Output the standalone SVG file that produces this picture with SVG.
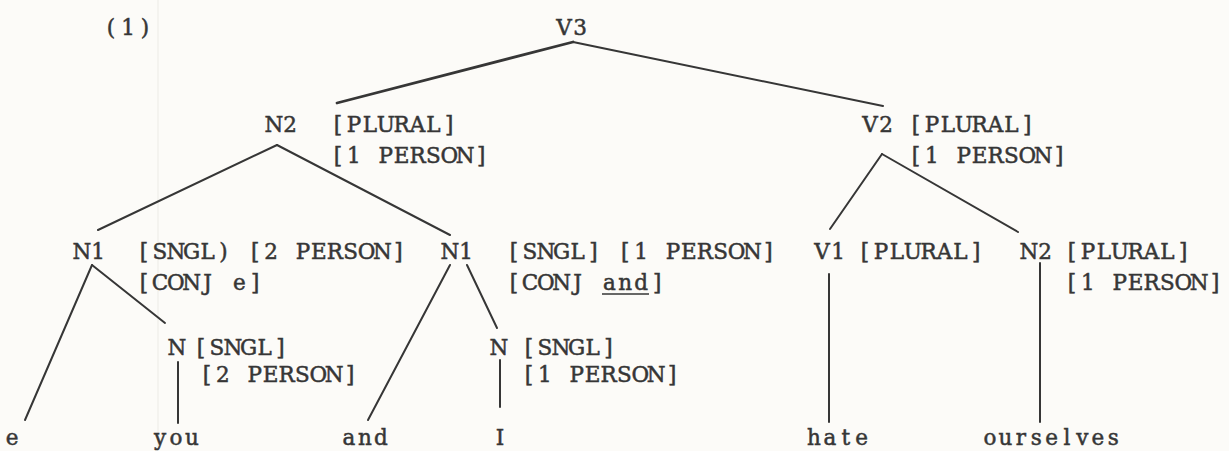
<svg xmlns="http://www.w3.org/2000/svg" width="1229" height="451" viewBox="0 0 1229 451">
<style>
text{font-family:"DejaVu Serif","Liberation Serif",serif;font-size:21.5px;fill:#363636;stroke:#363636;stroke-width:0.5px;text-anchor:middle;white-space:pre}
.e line{stroke:#363636;stroke-width:2;stroke-linecap:round}
.e line.t{stroke-width:2.8}
</style>
<rect width="1229" height="451" fill="#fcfbf8"/>
<line x1="158" y1="0" x2="158" y2="451" stroke="#ecebe6" stroke-width="1"/>
<text x="111 128 145" y="35">(1)</text>
<g id="V3"><text x="564 580" y="35">V3</text></g>
<g id="N2a"><text x="274 290" y="132">N2</text><text x="338 353.9 369.8 385.7 401.6 417.5 433.4 449.3" y="132">[PLURAL]</text><text x="338 353.9 369.8 385.7 401.6 417.5 433.4 449.3 465.2 481.1" y="163">[1 PERSON]</text></g>
<g id="V2"><text x="870 886" y="132">V2</text><text x="916 931.9 947.8 963.7 979.6 995.5 1011.4 1027.3" y="132">[PLURAL]</text><text x="916 931.9 947.8 963.7 979.6 995.5 1011.4 1027.3 1043.2 1059.1" y="163">[1 PERSON]</text></g>
<g id="N1a"><text x="82 98" y="259">N1</text><text x="144 159.9 175.8 191.7 207.6 223.5 239.4 255.3 271.2 287.1 303 318.9 334.8 350.7 366.6 382.5 398.4" y="259">[SNGL) [2 PERSON]</text><text x="144 159.9 175.8 191.7 207.6 223.5 239.4 255.3" y="290">[CONJ e]</text></g>
<g id="N1b"><text x="450 466" y="259">N1</text><text x="514 529.9 545.8 561.7 577.6 593.5 609.4 625.3 641.2 657.1 673 688.9 704.8 720.7 736.6 752.5 768.4" y="259">[SNGL] [1 PERSON]</text><text x="514 529.9 545.8 561.7 577.6 593.5 609.4 625.3 641.2 657.1" y="290">[CONJ and]</text><line x1="602" y1="294" x2="649" y2="294" stroke="#363636" stroke-width="1.6"/></g>
<g id="V1"><text x="822 838" y="259">V1</text><text x="865 880.9 896.8 912.7 928.6 944.5 960.4 976.3" y="259">[PLURAL]</text></g>
<g id="N2b"><text x="1029 1045" y="259">N2</text><text x="1072 1087.9 1103.8 1119.7 1135.6 1151.5 1167.4 1183.3" y="259">[PLURAL]</text><text x="1072 1087.9 1103.8 1119.7 1135.6 1151.5 1167.4 1183.3 1199.2 1215.1" y="290">[1 PERSON]</text></g>
<g id="Na"><text x="177" y="355">N</text><text x="201 216.9 232.8 248.7 264.6 280.5" y="355">[SNGL]</text><text x="207 222.9 238.8 254.7 270.6 286.5 302.4 318.3 334.2 350.1" y="382">[2 PERSON]</text></g>
<g id="Nb"><text x="499" y="355">N</text><text x="529 544.9 560.8 576.7 592.6 608.5" y="355">[SNGL]</text><text x="529 544.9 560.8 576.7 592.6 608.5 624.4 640.3 656.2 672.1" y="382">[1 PERSON]</text></g>
<g id="w-e"><text x="12" y="445">e</text></g>
<g id="w-you"><text x="160 176 192" y="445">you</text></g>
<g id="w-and"><text x="349 365 381" y="445">and</text></g>
<g id="w-I"><text x="500" y="445">I</text></g>
<g id="w-hate"><text x="814 829.9 845.8 861.7" y="445">hate</text></g>
<g id="w-ourselves"><text x="990 1005.4 1020.8 1036.2 1051.6 1067 1082.4 1097.8 1113.2" y="445">ourselves</text></g>
<g id="edges" class="e">
<line class="t" x1="573" y1="42" x2="337" y2="103"/>
<line x1="573" y1="42" x2="883" y2="106"/>
<line x1="277" y1="145" x2="98" y2="230"/>
<line x1="277" y1="145" x2="450" y2="235"/>
<line x1="882" y1="154" x2="830" y2="229"/>
<line x1="882" y1="154" x2="1018" y2="232"/>
<line x1="92" y1="265" x2="25" y2="420"/>
<line x1="92" y1="265" x2="165" y2="323"/>
<line x1="450" y1="265" x2="368" y2="420"/>
<line x1="467" y1="265" x2="497" y2="328"/>
<line x1="178" y1="362" x2="178" y2="423"/>
<line x1="500" y1="360" x2="500" y2="407"/>
<line x1="829" y1="274" x2="829" y2="422"/>
<line x1="1040" y1="263" x2="1040" y2="422"/>
</g>
</svg>
